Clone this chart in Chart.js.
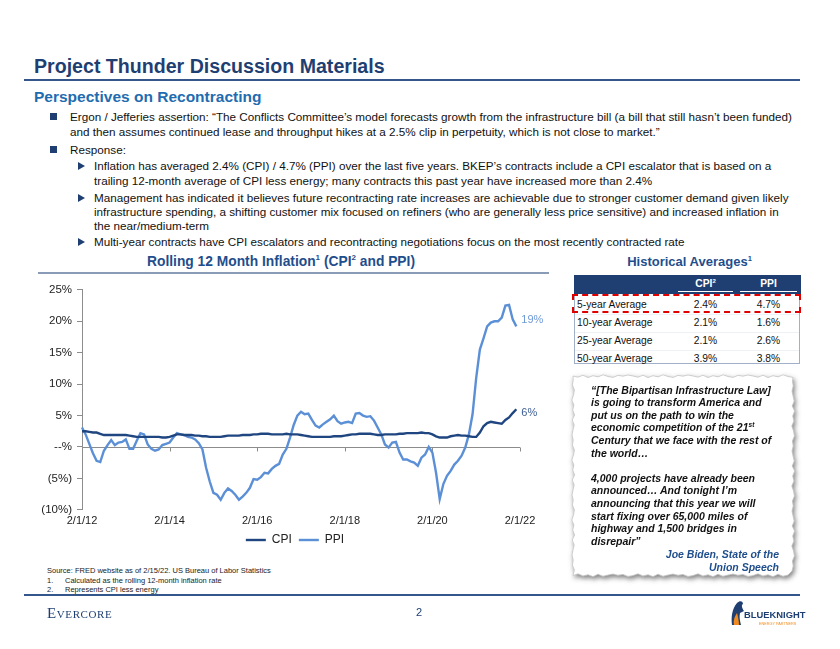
<!DOCTYPE html>
<html>
<head>
<meta charset="utf-8">
<script src="https://cdn.jsdelivr.net/npm/chart.js@4.4.1/dist/chart.umd.min.js"></script>
<style>
  html,body{margin:0;padding:0;background:#fff;}
  body{width:840px;height:649px;position:relative;overflow:hidden;font-family:"Liberation Sans",Arial,sans-serif;color:#111;}
  .t{position:absolute;white-space:nowrap;}
  .body{font-size:11.7px;line-height:14px;}
  .sq{position:absolute;width:7px;height:7px;background:#1f3f73;}
  .tri{position:absolute;width:0;height:0;border-top:4px solid transparent;border-bottom:4px solid transparent;border-left:7px solid #1f3f73;}
  .hr{position:absolute;background:#34568a;}
  .fn{font-size:7.5px;line-height:10px;color:#222;}
  .tab{font-size:10.3px;line-height:14px;color:#111;}
  .q{font-size:10.5px;line-height:12.5px;font-weight:bold;font-style:italic;color:#111;}
  sup{line-height:0;vertical-align:super;}
</style>
</head>
<body>
<!-- header -->
<div class="t" style="left:34px;top:54px;font-size:19.6px;line-height:24px;font-weight:bold;color:#1f3f73;">Project Thunder Discussion Materials</div>
<div class="hr" style="left:24px;top:79px;width:776px;height:2px;"></div>
<div class="t" style="left:34px;top:88px;font-size:15.5px;line-height:18px;font-weight:bold;color:#1f6cb0;">Perspectives on Recontracting</div>

<!-- bullets -->
<div class="sq" style="left:50px;top:113px;"></div>
<div class="t body" style="left:70px;top:110px;">Ergon / Jefferies assertion: “The Conflicts Committee’s model forecasts growth from the infrastructure bill (a bill that still hasn’t been funded)</div>
<div class="t body" style="left:70px;top:125px;">and then assumes continued lease and throughput hikes at a 2.5% clip in perpetuity, which is not close to market.”</div>
<div class="sq" style="left:50px;top:146px;"></div>
<div class="t body" style="left:70px;top:143px;">Response:</div>
<div class="tri" style="left:78px;top:162px;"></div>
<div class="t body" style="left:94px;top:159px;">Inflation has averaged 2.4% (CPI) / 4.7% (PPI) over the last five years. BKEP’s contracts include a CPI escalator that is based on a</div>
<div class="t body" style="left:94px;top:174px;">trailing 12-month average of CPI less energy; many contracts this past year have increased more than 2.4%</div>
<div class="tri" style="left:78px;top:194px;"></div>
<div class="t body" style="left:94px;top:191px;">Management has indicated it believes future recontracting rate increases are achievable due to stronger customer demand given likely</div>
<div class="t body" style="left:94px;top:205px;">infrastructure spending, a shifting customer mix focused on refiners (who are generally less price sensitive) and increased inflation in</div>
<div class="t body" style="left:94px;top:219px;">the near/medium-term</div>
<div class="tri" style="left:78px;top:238px;"></div>
<div class="t body" style="left:94px;top:235px;">Multi-year contracts have CPI escalators and recontracting negotiations focus on the most recently contracted rate</div>

<!-- chart title -->
<div class="t" style="left:20px;width:522px;text-align:center;top:254px;font-size:13.8px;line-height:16px;font-weight:bold;color:#1f4e8c;">Rolling 12 Month Inflation<sup style="font-size:8px;">1</sup> (CPI<sup style="font-size:8px;">2</sup> and PPI)</div>
<div style="position:absolute;left:38px;top:272px;width:511px;height:2px;background:#8a9bb8;"></div>

<!-- chart -->
<div style="position:absolute;left:20px;top:278px;width:550px;height:278px;">
  <canvas id="c"></canvas>
</div>

<!-- footnotes -->
<div class="t fn" style="left:47px;top:566px;">Source: FRED website as of 2/15/22. US Bureau of Labor Statistics</div>
<div class="t fn" style="left:47px;top:575.5px;">1.</div>
<div class="t fn" style="left:65px;top:575.5px;">Calculated as the rolling 12-month inflation rate</div>
<div class="t fn" style="left:47px;top:584.5px;">2.</div>
<div class="t fn" style="left:65px;top:584.5px;">Represents CPI less energy</div>

<!-- right panel -->
<div class="t" style="left:574px;width:231px;text-align:center;top:254px;font-size:13px;line-height:16px;font-weight:bold;color:#1f4e8c;">Historical Averages<sup style="font-size:7.5px;">1</sup></div>
<div style="position:absolute;left:574px;top:275px;width:226px;height:89px;border:1px solid #9fb0c8;box-sizing:border-box;"></div>
<div style="position:absolute;left:574px;top:275px;width:227px;height:19px;background:#1f3f73;"></div>
<div class="t" style="left:678px;width:55px;text-align:center;top:278px;font-size:10.3px;line-height:12px;font-weight:bold;color:#fff;">CPI<sup style="font-size:6px;">2</sup></div>
<div class="t" style="left:740px;width:57px;text-align:center;top:278px;font-size:10.3px;line-height:12px;font-weight:bold;color:#fff;">PPI</div>
<div style="position:absolute;left:678px;top:291px;width:55px;height:1px;background:#fff;"></div>
<div style="position:absolute;left:740px;top:291px;width:57px;height:1px;background:#fff;"></div>
<div id="tbl"></div>
<div style="position:absolute;left:572px;top:294px;width:229px;height:19px;border:2px dashed #e00000;box-sizing:border-box;"></div>

<!-- quote -->
<svg id="paper" width="840" height="649" style="position:absolute;left:0;top:0;" xmlns="http://www.w3.org/2000/svg">
  <defs>
    <filter id="sh" x="-10%" y="-10%" width="120%" height="120%">
      <feDropShadow dx="1.5" dy="2.5" stdDeviation="2.5" flood-color="#555" flood-opacity="0.75"/>
    </filter>
  </defs>
  <path id="paperPath" fill="#fff" stroke="#bdbdbd" stroke-width="0.7" filter="url(#sh)"/>
</svg>
<div id="quote"></div>

<!-- footer -->
<div class="hr" style="left:24px;top:594px;width:776px;height:2px;"></div>
<div class="t" style="left:47px;top:604px;font-family:'Liberation Serif','DejaVu Serif',serif;font-variant:small-caps;font-size:15px;line-height:18px;letter-spacing:0.6px;color:#1f3f73;">Evercore</div>
<div class="t" style="left:416px;top:605px;font-size:11px;line-height:14px;color:#1f3f73;">2</div>
<svg width="80" height="30" style="position:absolute;left:728px;top:599px;" xmlns="http://www.w3.org/2000/svg">
  <path d="M4 26 C3 18 4 10 9 4 C12 1 15 2 15 5 C13 6 14 9 16 12 L12 14 C11 18 12 22 13 26 Z" fill="#1f3f73"/>
  <path d="M6 26 C5 21 7 17 9 14 C10 18 11 22 11 26 Z" fill="#f08c1e"/>
  <text x="16" y="19" font-family="Liberation Sans, Arial" font-weight="bold" font-size="9.4" fill="#1f3f73">BLUEKNIGHT</text>
  <text x="31" y="26" font-family="Liberation Sans, Arial" font-size="3.8" fill="#f08c1e">ENERGY PARTNERS</text>
</svg>

<script>
// ---------- data ----------
const seriesNames = ['CPI', 'PPI'];
const tickLabels = ['2/1/12', '2/1/14', '2/1/16', '2/1/18', '2/1/20', '2/1/22'];
const endLabels = ['6%', '19%'];
// monthly, 2/1/12 .. 1/1/22 (rolling 12-month %)
const cpi = [
  2.5, 2.5, 2.4, 2.3, 2.3, 2.1, 1.9, 1.9, 1.9, 1.9,
  1.9, 1.9, 1.9, 1.8, 1.7, 1.6, 1.6, 1.6, 1.6, 1.6,
  1.6, 1.6, 1.5, 1.5, 1.6, 1.8, 2.0, 2.0, 1.9, 1.9,
  1.9, 1.8, 1.8, 1.7, 1.7, 1.6, 1.6, 1.6, 1.6, 1.7,
  1.8, 1.8, 1.8, 1.8, 1.9, 1.9, 1.9, 2.0, 2.0, 2.1,
  2.1, 2.1, 2.0, 2.0, 2.0, 2.0, 2.1, 2.0, 2.0, 2.0,
  1.9, 1.8, 1.7, 1.6, 1.6, 1.6, 1.6, 1.6, 1.6, 1.7,
  1.7, 1.7, 1.8, 1.9, 2.0, 2.0, 2.1, 2.1, 2.1, 2.1,
  2.0, 1.9, 1.9, 2.0, 2.0, 2.0, 2.0, 2.1, 2.1, 2.2,
  2.2, 2.2, 2.2, 2.3, 2.2, 2.2, 2.0, 1.7, 1.5, 1.5,
  1.5, 1.7, 1.8, 1.9, 1.8, 1.8, 1.7, 1.6, 1.6, 2.3,
  3.3, 3.8, 4.0, 3.9, 3.8, 3.7, 4.3, 4.7, 5.4, 6.0
];
const ppi = [
  3.1, 2.0, 0.5, -1.0, -2.2, -2.4, -0.6, 0.3, 1.1, 0.3,
  0.7, 0.8, 1.2, -0.3, -0.3, 1.0, 2.2, 2.0, 0.4, -0.3,
  -0.6, -0.4, 0.3, 0.5, 0.7, 1.5, 2.2, 2.0, 1.9, 1.6,
  1.5, 1.2, 0.6, -0.4, -3.3, -5.5, -7.3, -7.6, -8.4, -7.3,
  -6.6, -7.0, -7.6, -8.4, -7.9, -7.3, -6.5, -5.1, -5.2, -4.8,
  -4.1, -4.2, -3.5, -3.0, -2.7, -1.2, -0.3, 1.5, 3.5, 5.0,
  5.6, 5.2, 5.3, 4.3, 3.4, 3.1, 3.6, 4.0, 4.4, 5.0,
  4.1, 3.7, 3.9, 4.0, 3.8, 5.3, 5.4, 5.0, 4.8, 4.9,
  4.2, 3.1, 2.0, 0.4, -0.1, 0.7, 0.8, -0.9, -2.0, -2.0,
  -2.3, -2.5, -3.0, -1.7, -1.2, 0.0, -0.9, -4.1, -8.3, -5.9,
  -4.6, -3.8, -2.8, -2.2, -1.4, -0.1, 2.0, 5.2, 11.0, 15.5,
  17.3, 19.2, 19.8, 20.0, 20.0, 20.6, 22.5, 22.6, 20.3, 19.2
];
// table
const tableRows = ['5-year Average', '10-year Average', '25-year Average', '50-year Average'];
const tableCPI = ['2.4%', '2.1%', '2.1%', '3.9%'];
const tablePPI = ['4.7%', '1.6%', '2.6%', '3.8%'];
// quote
const quoteLines = [
  '“[The Bipartisan Infrastructure Law]',
  'is going to transform America and',
  'put us on the path to win the',
  'economic competition of the 21<sup style="font-size:6.5px;">st</sup>',
  'Century that we face with the rest of',
  'the world…',
  '',
  '4,000 projects have already been',
  'announced… And tonight I’m',
  'announcing that this year we will',
  'start fixing over 65,000 miles of',
  'highway and 1,500 bridges in',
  'disrepair”'
];
const quoteBy = ['Joe Biden, State of the', 'Union Speech'];

// month category labels 2/1/12 .. 2/1/22
const months = [];
for (let i = 0; i <= 120; i++) {
  const m = (1 + i) % 12 + 1;
  const y = 12 + Math.floor((1 + i) / 12);
  months.push(m + '/1/' + y);
}

// ---------- table ----------
(function(){
  const rowY = [305, 323, 341, 359];
  let h = '';
  tableRows.forEach((r, k) => {
    const top = rowY[k] - 7;
    h += `<div class="t tab" style="left:577px;top:${top}px;">${r}</div>`;
    h += `<div class="t tab" style="left:678px;width:55px;text-align:center;top:${top}px;">${tableCPI[k]}</div>`;
    h += `<div class="t tab" style="left:740px;width:57px;text-align:center;top:${top}px;">${tablePPI[k]}</div>`;
    if (k > 0) h += `<div style="position:absolute;left:575px;top:${rowY[k]-9.5}px;width:224px;height:1px;background:#eef1f5;"></div>`;
  });
  document.getElementById('tbl').innerHTML = h;
})();

// ---------- quote ----------
(function(){
  let h = '';
  quoteLines.forEach((l, k) => {
    h += `<div class="t q" style="left:591px;top:${383.5 + k*12.6}px;">${l}</div>`;
  });
  quoteBy.forEach((l, k) => {
    h += `<div class="t q" style="right:${840-779}px;top:${548 + k*12.5}px;color:#1f4e8c;">${l}</div>`;
  });
  document.getElementById('quote').innerHTML = h;
  // torn paper edge
  const jag = [0, 1.2, -0.8, 1.6, -0.3, 0.9, -1.2, 0.5, 1.4, -0.6, 0.2, -1.0];
  const L = 573, R = 793, T = 376, B = 575;
  let pts = [], j = 0;
  for (let x = L; x <= R; x += 5) pts.push([x, T + jag[(j++) % jag.length]]);
  for (let y = T + 5; y <= B; y += 5) pts.push([R + jag[(j++) % jag.length], y]);
  for (let x = R - 5; x >= L; x -= 5) pts.push([x, B + jag[(j++) % jag.length]]);
  for (let y = B - 5; y > T; y -= 5) pts.push([L + jag[(j++) % jag.length], y]);
  document.getElementById('paperPath').setAttribute('d', 'M' + pts.map(p => p.join(',')).join(' L') + ' Z');
})();

// ---------- chart ----------
const FONT = '"Liberation Sans", Arial, sans-serif';
const tickIdx = tickLabels.map(l => months.indexOf(l));

const zeroAxis = {
  id: 'zeroAxis',
  beforeDatasetsDraw(chart) {
    const {ctx, scales: {x, y}, chartArea} = chart;
    const y0 = Math.round(y.getPixelForValue(0)) + 0.5;
    ctx.save();
    ctx.strokeStyle = '#8c8c8c';
    ctx.lineWidth = 1;
    ctx.beginPath();
    ctx.moveTo(chartArea.left, y0);
    ctx.lineTo(chartArea.right, y0);
    tickIdx.forEach(i => {
      if (i <= 0) return;
      const px = Math.round(x.getPixelForValue(i)) + 0.5;
      ctx.moveTo(px, y0);
      ctx.lineTo(px, y0 + 4);
    });
    ctx.stroke();
    ctx.restore();
  }
};
const endLabelPlugin = {
  id: 'endLabels',
  afterDatasetsDraw(chart) {
    const {ctx} = chart;
    const dy = [4, -6];
    const cols = ['#3d5f94', '#6f9ad8'];
    ctx.save();
    ctx.font = '11px ' + FONT;
    ctx.textBaseline = 'middle';
    chart.data.datasets.forEach((ds, di) => {
      const meta = chart.getDatasetMeta(di);
      const pt = meta.data[ds.data.length - 1];
      ctx.fillStyle = cols[di];
      ctx.fillText(endLabels[di], pt.x + 5, pt.y + dy[di]);
    });
    ctx.restore();
  }
};

new Chart(document.getElementById('c'), {
  type: 'line',
  data: {
    labels: months,
    datasets: [
      {label: seriesNames[0], data: cpi, borderColor: '#1f4680', backgroundColor: '#1f4680', borderWidth: 2.4, pointRadius: 0, tension: 0},
      {label: seriesNames[1], data: ppi, borderColor: '#5b8fd6', backgroundColor: '#5b8fd6', borderWidth: 2.4, pointRadius: 0, tension: 0}
    ]
  },
  options: {
    responsive: true,
    maintainAspectRatio: false,
    animation: false,
    layout: {padding: {top: 11, right: 0, left: 0, bottom: 0}},
    plugins: {
      tooltip: {enabled: false},
      legend: {
        position: 'bottom',
        labels: {
          usePointStyle: true, pointStyle: 'line', pointStyleWidth: 20,
          font: {family: FONT, size: 12}, color: '#222', padding: 1, boxHeight: 10,
          generateLabels(chart) {
            const items = Chart.defaults.plugins.legend.labels.generateLabels(chart);
            items.forEach((it, k) => { if (k < items.length - 1) it.text = it.text + '\u2002'; });
            return items;
          }
        }
      }
    },
    scales: {
      x: {
        type: 'category',
        grid: {display: false, drawTicks: false},
        border: {display: false},
        ticks: {
          autoSkip: false, maxRotation: 0, minRotation: 0, padding: 5,
          font: {family: FONT, size: 11}, color: '#222',
          callback: (v, i) => (tickIdx.includes(i) ? months[i] : '')
        }
      },
      y: {
        min: -10, max: 25,
        ticks: {
          stepSize: 5, padding: 5,
          font: {family: FONT, size: 11.5}, color: '#222',
          callback: v => v > 0 ? v + '%' : (v === 0 ? '--%' : '(' + (-v) + '%)')
        },
        grid: {drawOnChartArea: false, drawTicks: true, tickLength: 5, color: '#8c8c8c'},
        border: {color: '#8c8c8c', width: 1},
        afterFit(s) { s.width = 62; }
      },
      yRight: {
        position: 'right',
        display: true,
        ticks: {display: false},
        grid: {display: false, drawTicks: false},
        border: {display: false},
        afterFit(s) { s.width = 50; }
      }
    }
  },
  plugins: [zeroAxis, endLabelPlugin]
});
</script>
</body>
</html>
